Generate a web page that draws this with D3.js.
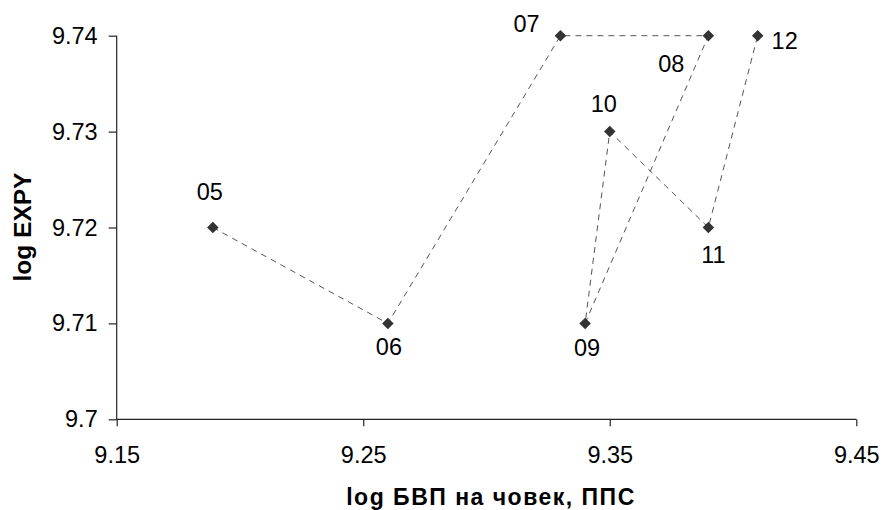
<!DOCTYPE html>
<html>
<head>
<meta charset="utf-8">
<script src="https://cdn.jsdelivr.net/npm/d3@7"></script>
<style>
  html, body { margin: 0; padding: 0; background: #fff; }
  svg { display: block; font-family: "Liberation Sans", Arial, sans-serif; }
</style>
</head>
<body>
<svg id="chart" width="883" height="510"></svg>
<script>
// Year labels and the (log GDP per capita, log EXPY) pairs, in time order
const years = ["05", "06", "07", "08", "09", "10", "11", "12"];
const logGdp = [9.189, 9.26, 9.33, 9.39, 9.34, 9.35, 9.39, 9.41];
const logExpy = [9.72, 9.71, 9.74, 9.74, 9.71, 9.73, 9.72, 9.74];

const xTicks = [9.15, 9.25, 9.35, 9.45];
const xTickLabels = ["9.15", "9.25", "9.35", "9.45"];
const yTicks = [9.7, 9.71, 9.72, 9.73, 9.74];
const yTickLabels = ["9.7", "9.71", "9.72", "9.73", "9.74"];

const xTitle = "log БВП на човек, ППС";
const yTitle = "log EXPY";

// where each year label sits relative to its marker
const labelPlacement = {
  "05": [-3, -28], "06": [1, 32], "07": [-34, -4], "08": [-37, 36],
  "09": [2, 33], "10": [-6, -20], "11": [5, 35], "12": [27, 13]
};

const svg = d3.select("#chart");
const plotL = 116.7, plotR = 856.3, plotT = 35.7, plotB = 419.3;

const x = d3.scaleLinear().domain([9.15, 9.45]).range([plotL, plotR]);
const y = d3.scaleLinear().domain([9.7, 9.74]).range([plotB, plotT]);

const axisColor = "#222";
const textSize = "23.5px";

// y axis
const yAxis = svg.append("g")
  .attr("transform", `translate(${plotL},0)`)
  .call(d3.axisLeft(y).tickValues(yTicks)
    .tickFormat((d, i) => yTickLabels[i]).tickSize(8).tickPadding(11));
// x axis
const xAxis = svg.append("g")
  .attr("transform", `translate(0,${plotB})`)
  .call(d3.axisBottom(x).tickValues(xTicks)
    .tickFormat((d, i) => xTickLabels[i]).tickSize(7).tickPadding(20));

[yAxis, xAxis].forEach(g => {
  g.select(".domain").attr("stroke", axisColor).attr("stroke-width", 1.2);
  g.selectAll(".tick line").attr("stroke", axisColor).attr("stroke-width", 1.2);
  g.selectAll(".tick text").attr("fill", "#000")
    .style("font-size", textSize).style("font-family", "'Liberation Sans', Arial, sans-serif");
});
// plain axis lines without end caps
yAxis.select(".domain").attr("d", `M0,${plotT}V${plotB}`);
xAxis.select(".domain").attr("d", `M${plotL},0H${plotR}`);

const pts = years.map((yr, i) => ({ yr, gx: logGdp[i], ey: logExpy[i] }));

// dashed path joining consecutive years
svg.append("path")
  .datum(pts)
  .attr("fill", "none")
  .attr("stroke", "#555")
  .attr("stroke-width", 1)
  .attr("stroke-dasharray", "6,5")
  .attr("d", d3.line().x(d => x(d.gx)).y(d => y(d.ey)));

// diamond markers
svg.append("g").selectAll("path")
  .data(pts)
  .join("path")
  .attr("transform", d => `translate(${x(d.gx)},${y(d.ey)})`)
  .attr("d", d3.symbol().type(d3.symbolDiamond2).size(85))
  .attr("fill", "#333");

// year labels
svg.append("g").selectAll("text")
  .data(pts)
  .join("text")
  .attr("x", d => x(d.gx) + labelPlacement[d.yr][0])
  .attr("y", d => y(d.ey) + labelPlacement[d.yr][1])
  .attr("text-anchor", "middle")
  .style("font-size", textSize)
  .attr("fill", "#000")
  .text(d => d.yr);

// axis titles
svg.append("text")
  .attr("x", 491)
  .attr("y", 505)
  .attr("text-anchor", "middle")
  .style("font-size", "23px")
  .style("font-weight", "bold")
  .style("letter-spacing", "1.5px")
  .text(xTitle);

svg.append("text")
  .attr("transform", `translate(30.7,227) rotate(-90)`)
  .attr("text-anchor", "middle")
  .style("font-size", "24.5px")
  .style("font-weight", "bold")
  .text(yTitle);
</script>
</body>
</html>
